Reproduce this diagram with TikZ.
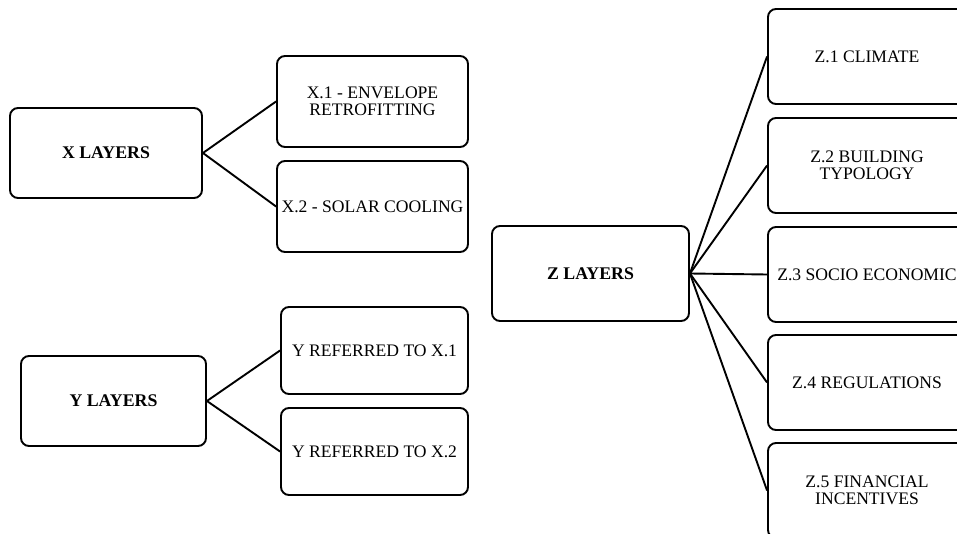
\documentclass[tikz,border=0pt]{standalone}
\usepackage{fontspec}
\setmainfont{Liberation Serif}
\begin{document}
\begin{tikzpicture}[x=1pt,y=-1pt,
  layerbox/.style={draw=black, line width=1.9pt, rounded corners=8pt, fill=white,
    align=center, inner sep=1pt, font=\fontsize{17.6}{17.5}\selectfont},
  headbox/.style={layerbox, font=\fontsize{17.8}{17.5}\selectfont\bfseries},
  link/.style={draw=black, line width=1.9pt}]
  \useasboundingbox (0,0) rectangle (957,534);
  \clip (0,0) rectangle (957,534);
  \fill[white] (0,0) rectangle (957,534);

  % X group
  \node[headbox, minimum width=192pt, minimum height=90pt] (xl) at (106,153) {X LAYERS};
  \node[layerbox, minimum width=191pt, minimum height=91pt] (x1) at (372.5,101.5) {X.1 - ENVELOPE\\RETROFITTING};
  \node[layerbox, minimum width=191pt, minimum height=91pt] (x2) at (372.5,206.5) {X.2 - SOLAR COOLING};

  % Y group
  \node[headbox, minimum width=185pt, minimum height=90pt] (yl) at (113.5,401) {Y LAYERS};
  \node[layerbox, minimum width=187pt, minimum height=87pt] (y1) at (374.5,350.5) {Y REFERRED TO X.1};
  \node[layerbox, minimum width=187pt, minimum height=87pt] (y2) at (374.5,451.5) {Y REFERRED TO X.2};

  % Z group
  \node[headbox, minimum width=197pt, minimum height=95pt] (zl) at (590.5,273.5) {Z LAYERS};
  \node[layerbox, minimum width=198pt, minimum height=95pt] (z1) at (867,56.5) {Z.1 CLIMATE};
  \node[layerbox, minimum width=198pt, minimum height=95pt] (z2) at (867,165.5) {Z.2 BUILDING\\TYPOLOGY};
  \node[layerbox, minimum width=198pt, minimum height=95pt] (z3) at (867,274.5) {Z.3 SOCIO ECONOMIC};
  \node[layerbox, minimum width=198pt, minimum height=95pt] (z4) at (867,382.5) {Z.4 REGULATIONS};
  \node[layerbox, minimum width=198pt, minimum height=95pt] (z5) at (867,490.5) {Z.5 FINANCIAL\\INCENTIVES};

  % connectors
  \draw[link] (x1.west) -- (xl.east) -- (x2.west);
  \draw[link] (y1.west) -- (yl.east) -- (y2.west);
  \foreach \t in {z1,z2,z3,z4,z5}
    \draw[link] (zl.east) -- (\t.west);
\end{tikzpicture}
\end{document}
